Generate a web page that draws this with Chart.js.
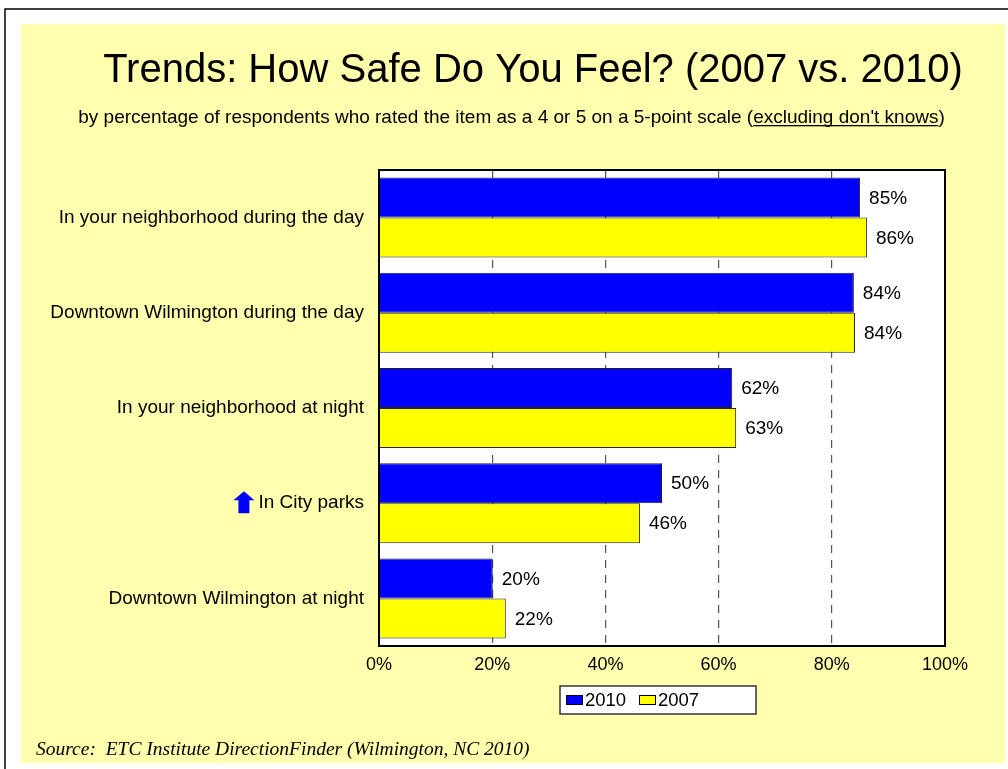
<!DOCTYPE html>
<html><head><meta charset="utf-8">
<script src="https://cdn.jsdelivr.net/npm/chart.js@4/dist/chart.umd.min.js"></script>
<style>html,body{margin:0;padding:0;background:#fff;}canvas{display:block}</style>
</head><body>
<canvas id="c" width="1008" height="769"></canvas>
<script>
const categories = [
  'In your neighborhood during the day',
  'Downtown Wilmington during the day',
  'In your neighborhood at night',
  'In City parks',
  'Downtown Wilmington at night'
];
const series2010 = [85.0, 83.9, 62.4, 50.0, 20.1];
const series2007 = [86.2, 84.1, 63.1, 46.1, 22.4];
const xTickValues = [0, 20, 40, 60, 80, 100];
const xTickLabels = ['0%', '20%', '40%', '60%', '80%', '100%'];
const titleText = 'Trends: How Safe Do You Feel? (2007 vs. 2010)';
const subtitlePlain = 'by percentage of respondents who rated the item as a 4 or 5 on a 5-point scale (';
const subtitleUnderlined = "excluding don't knows";
const subtitleEnd = ')';
const sourceText = 'Source:  ETC Institute DirectionFinder (Wilmington, NC 2010)';
const arrowCategory = 'In City parks';

const SANS = '"Liberation Sans", Arial, sans-serif';
const SERIF = '"Liberation Serif", "Times New Roman", serif';

const bgPlugin = {
  id: 'bg',
  beforeDraw(chart) {
    const ctx = chart.ctx, a = chart.chartArea;
    ctx.save();
    ctx.fillStyle = '#ffffff';
    ctx.fillRect(0, 0, chart.width, chart.height);
    ctx.strokeStyle = '#000';
    ctx.lineWidth = 1.5;
    ctx.beginPath();
    ctx.moveTo(5, chart.height); ctx.lineTo(5, 9); ctx.lineTo(chart.width, 9);
    ctx.stroke();
    ctx.fillStyle = '#FFFFAD';
    ctx.fillRect(21, 24, 984, 739);
    ctx.fillStyle = '#ffffff';
    ctx.fillRect(a.left, a.top, a.right - a.left, a.bottom - a.top);
    ctx.restore();
  }
};

const overlayPlugin = {
  id: 'overlay',
  afterDatasetsDraw(chart) {
    const ctx = chart.ctx, a = chart.chartArea;
    ctx.save();
    ctx.fillStyle = '#000';
    ctx.font = '19px ' + SANS;
    ctx.textBaseline = 'middle';
    ctx.textAlign = 'left';
    chart.data.datasets.forEach((ds, di) => {
      const meta = chart.getDatasetMeta(di);
      meta.data.forEach((bar, i) => {
        ctx.fillText(Math.round(ds.data[i]) + '%', bar.x + 9, bar.y + 1);
      });
    });
    ctx.strokeStyle = '#000';
    ctx.lineWidth = 2;
    ctx.strokeRect(a.left, a.top, a.right - a.left, a.bottom - a.top);
    ctx.restore();
  },
  afterDraw(chart) {
    const ctx = chart.ctx, a = chart.chartArea;
    ctx.save();
    ctx.fillStyle = '#000';
    ctx.textBaseline = 'alphabetic';
    // title
    ctx.font = '40px ' + SANS;
    ctx.textAlign = 'center';
    ctx.fillText(titleText, 533, 82);
    // subtitle
    ctx.font = '19px ' + SANS;
    ctx.textAlign = 'left';
    const full = subtitlePlain + subtitleUnderlined + subtitleEnd;
    const w = ctx.measureText(full).width;
    let x = 511.5 - w / 2;
    const y = 123;
    ctx.fillText(subtitlePlain, x, y);
    x += ctx.measureText(subtitlePlain).width;
    const uw = ctx.measureText(subtitleUnderlined).width;
    ctx.fillText(subtitleUnderlined, x, y);
    ctx.fillRect(x, y + 2, uw, 1.3);
    x += uw;
    ctx.fillText(subtitleEnd, x, y);
    // arrow next to category
    const ys = chart.scales.y;
    const idx = categories.indexOf(arrowCategory);
    const ly = ys.getPixelForValue(idx);
    ctx.font = '19px ' + SANS;
    const tw = ctx.measureText(arrowCategory).width;
    const tx = a.left - 15 - tw;
    const cx = tx - 4 - 10.5;
    ctx.fillStyle = '#0000FF';
    ctx.beginPath();
    ctx.moveTo(cx, ly - 12);
    ctx.lineTo(cx + 10.5, ly - 3);
    ctx.lineTo(cx + 5.5, ly - 3);
    ctx.lineTo(cx + 5.5, ly + 10);
    ctx.lineTo(cx - 5.5, ly + 10);
    ctx.lineTo(cx - 5.5, ly - 3);
    ctx.lineTo(cx - 10.5, ly - 3);
    ctx.closePath();
    ctx.fill();
    // legend
    ctx.fillStyle = '#fff';
    ctx.fillRect(560, 686, 196, 28);
    ctx.strokeStyle = '#333';
    ctx.lineWidth = 1.5;
    ctx.strokeRect(560, 686, 196, 28);
    let lx = 566;
    ctx.font = '18.5px ' + SANS;
    ctx.textBaseline = 'middle';
    chart.data.datasets.forEach(ds => {
      ctx.fillStyle = ds.backgroundColor;
      ctx.fillRect(lx, 695, 17, 10);
      ctx.strokeStyle = '#000';
      ctx.lineWidth = 1;
      ctx.strokeRect(lx + 0.5, 695.5, 16, 9);
      ctx.fillStyle = '#000';
      ctx.fillText(ds.label, lx + 19, 701);
      lx += 73;
    });
    // source
    ctx.font = 'italic 19.5px ' + SERIF;
    ctx.textBaseline = 'alphabetic';
    ctx.fillStyle = '#000';
    ctx.fillText(sourceText, 36, 755);
    ctx.restore();
  }
};

new Chart(document.getElementById('c'), {
  type: 'bar',
  data: {
    labels: categories,
    datasets: [
      { label: '2010', data: series2010, backgroundColor: '#0000FF', borderColor: '#222', borderWidth: 1,
        categoryPercentage: 0.84, barPercentage: 1 },
      { label: '2007', data: series2007, backgroundColor: '#FFFF00', borderColor: '#222', borderWidth: 1,
        categoryPercentage: 0.84, barPercentage: 1 }
    ]
  },
  options: {
    indexAxis: 'y',
    responsive: false,
    animation: false,
    devicePixelRatio: 1,
    layout: { padding: { top: 170, right: 63, bottom: 0, left: 0 } },
    plugins: { legend: { display: false }, tooltip: { enabled: false }, title: { display: false } },
    scales: {
      x: {
        min: 0, max: 100,
        afterBuildTicks: s => { s.ticks = xTickValues.map(v => ({ value: v })); },
        ticks: {
          callback: (v) => xTickLabels[xTickValues.indexOf(v)],
          color: '#000', font: { family: SANS, size: 18 }, padding: 8, maxRotation: 0, autoSkip: false
        },
        grid: {
          drawTicks: false, lineWidth: 1.2,
          color: c => (c.tick && (c.tick.value === 0 || c.tick.value === 100)) ? 'rgba(0,0,0,0)' : '#555'
        },
        border: { display: false, dash: [8, 7] },
        afterFit: s => { s.height = 123; }
      },
      y: {
        ticks: { color: '#000', font: { family: SANS, size: 19 }, padding: 15, autoSkip: false },
        grid: { display: false, drawTicks: false },
        border: { display: false },
        afterFit: s => { s.width = 379; }
      }
    }
  },
  plugins: [bgPlugin, overlayPlugin]
});
</script>
</body></html>
